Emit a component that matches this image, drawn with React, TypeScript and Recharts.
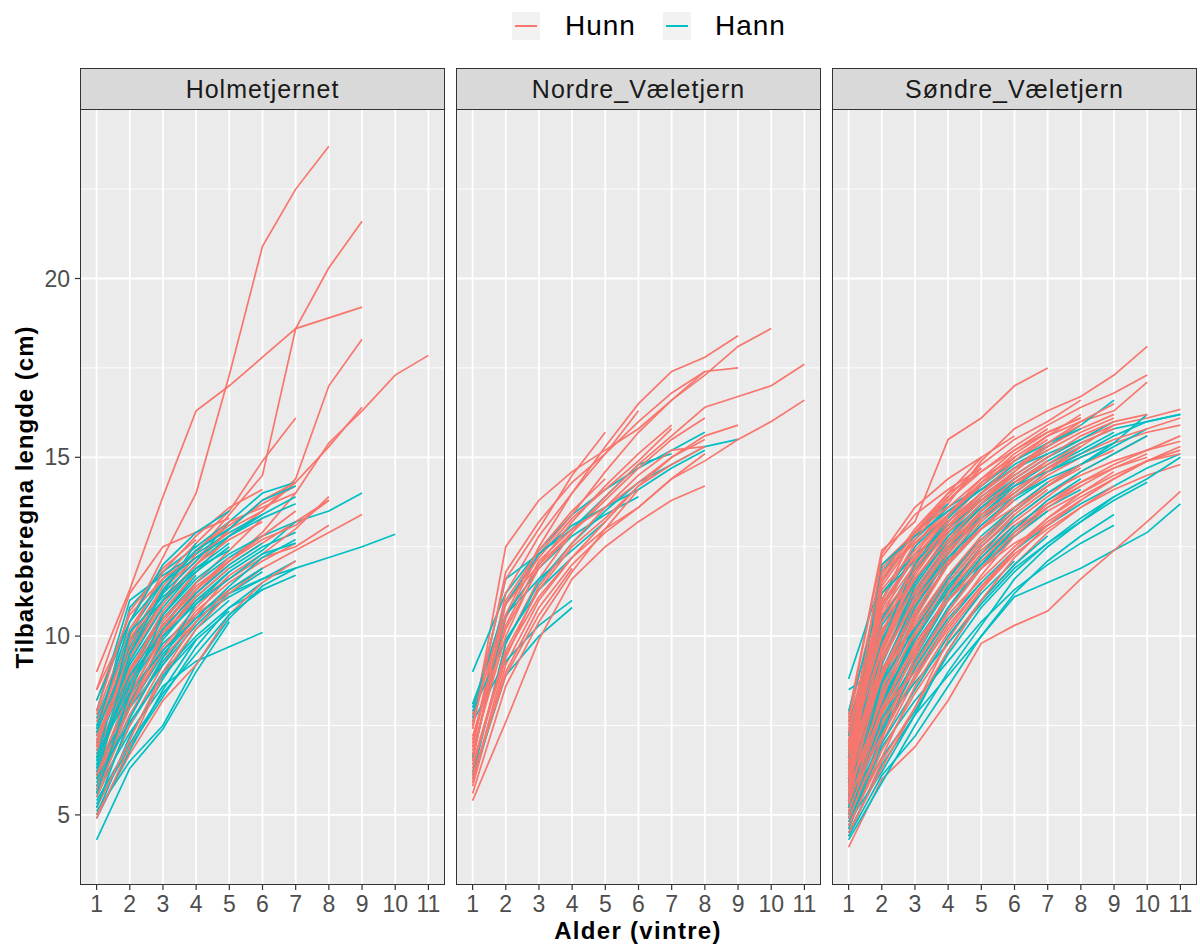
import React from 'react';
import { LineChart, Line, XAxis, YAxis, CartesianGrid } from 'recharts';

// ---------- data (length in cm at age 1, 2, 3, ... for each fish) ----------
const holmetjernetHunn: number[][] = [
  [8.5, 10.4, 12.2, 14.0, 17.3, 20.9, 22.5, 23.7],
  [9.0, 11.3, 13.9, 16.3, 17.0, 17.8, 18.6, 18.9, 19.2],
  [7.0, 9.6, 11.0, 12.3, 13.4, 14.5, 18.6, 20.3, 21.6],
  [6.6, 9.0, 10.6, 11.8, 12.8, 13.5, 14.4, 17.0, 18.3],
  [6.2, 8.4, 10.0, 11.2, 12.1, 12.9, 14.0, 15.4, 16.3, 17.3, 17.85],
  [7.3, 9.8, 11.2, 12.1, 13.0, 13.8, 14.3, 15.3, 16.4],
  [7.8, 10.2, 11.6, 12.6, 13.5, 14.9, 16.1],
  [8.5, 11.2, 12.5, 12.9, 13.3],
  [6.5, 8.6, 10.2, 11.2, 12.0, 12.6, 13.2, 13.8],
  [6.0, 8.2, 9.7, 10.8, 11.7, 12.3, 13.0, 13.9],
  [6.8, 8.8, 10.1, 11.0, 11.6, 12.2, 12.5, 13.1],
  [6.4, 8.1, 9.6, 10.6, 11.3, 11.9, 12.4, 12.9, 13.4],
  [7.2, 9.3, 10.9, 12.0, 13.0, 13.5, 14.3],
  [7.0, 9.9, 11.4, 12.4, 13.2, 13.6, 14.0],
  [6.3, 8.8, 10.2, 11.5, 12.4, 13.3],
  [5.5, 7.5, 9.2, 10.6, 11.7],
  [6.7, 9.0, 10.7, 11.8],
  [5.0, 6.7, 8.2, 9.2, 10.6, 11.5, 12.1],
  [6.9, 9.4, 11.0, 12.0, 12.7, 13.2],
  [7.6, 9.9, 11.3, 12.2, 12.9],
  [5.8, 8.0, 9.6, 10.7, 11.5, 12.1, 12.6],
  [6.1, 8.5, 10.4, 11.5],
  [4.9, 6.9, 8.9, 10.2, 11.2, 11.9],
  [7.4, 10.0, 11.8, 12.8, 13.6, 14.1],
  [6.6, 9.1, 10.5, 11.4, 12.1, 12.7, 13.1, 13.8],
  [5.6, 7.8, 9.4, 10.4],
  [8.2, 10.6, 11.6, 12.3],
  [6.0, 8.0, 10.0, 11.1, 11.9],
  [7.1, 9.0, 10.3, 11.3, 12.1, 12.8, 13.5],
  [5.2, 7.1, 9.0, 10.4, 11.3],
  [6.9, 9.6, 11.3, 12.4, 13.1, 13.7, 14.2],
  [5.7, 8.3, 10.1, 11.3, 12.2],
  [7.9, 10.7, 11.9, 12.7],
];

const holmetjernetHann: number[][] = [
  [5.9, 8.0, 9.5, 10.5, 11.1, 11.6, 11.9, 12.2, 12.5, 12.85],
  [6.6, 9.0, 10.5, 11.5, 12.2, 12.8, 13.2, 13.5, 14.0],
  [5.7, 7.3, 8.6, 9.3, 9.7, 10.1],
  [4.3, 6.3, 7.4, 9.0, 10.4],
  [7.2, 10.8, 11.8, 12.5, 13.2, 14.0, 14.3],
  [6.8, 9.5, 11.0, 12.0, 12.8, 13.4, 13.9],
  [6.2, 8.3, 9.8, 10.6, 11.2, 11.6, 12.1],
  [5.5, 7.5, 9.0, 10.0, 10.8, 11.3, 11.7],
  [6.0, 8.6, 10.0, 11.1, 11.9, 12.5, 12.9],
  [7.0, 9.7, 11.2, 12.1, 13.2],
  [7.9, 11.0, 11.7, 12.3, 12.9, 13.4],
  [5.0, 7.2, 8.8, 10.2, 11.0],
  [6.4, 8.9, 10.3, 11.4],
  [5.3, 6.9, 8.3, 9.7, 10.8, 11.5],
  [7.5, 10.1, 11.5, 12.4, 13.0],
  [6.9, 9.2, 10.6, 11.6, 12.3, 12.8],
  [5.1, 6.5, 7.5, 9.2, 10.5, 11.4, 11.9],
  [6.3, 8.0, 9.2, 10.3, 11.2, 11.8],
  [7.7, 9.9, 11.0, 11.8, 12.5],
  [5.6, 8.1, 9.9, 11.0, 11.8, 12.4, 13.2],
  [6.1, 9.3, 10.8, 11.9, 12.6],
  [4.9, 6.8, 8.5, 9.9],
  [6.7, 8.4, 9.6, 10.5, 11.4, 12.2, 12.7],
  [7.3, 9.6, 11.2, 12.6],
  [5.8, 7.8, 9.3, 10.4, 11.3, 11.9],
  [6.5, 10.1, 11.1, 11.9, 12.4],
  [5.4, 7.0, 8.4, 9.5, 10.6, 11.3],
  [7.1, 8.9, 10.0, 10.9, 11.6, 12.3, 12.6],
  [6.0, 7.6, 8.9, 9.9, 10.7],
  [8.2, 10.4, 11.5, 12.2, 12.8, 13.3, 13.7],
  [6.3, 9.5, 11.3, 12.4, 13.0, 13.8, 14.2],
  [5.2, 7.7, 9.4, 10.9, 11.8],
  [7.4, 10.4, 12.0, 12.9, 13.5],
  [6.6, 8.7, 10.2, 11.2, 12.0, 12.6],
  [5.6, 8.4, 10.6, 11.7],
];

const nordreHunn: number[][] = [
  [7.5, 12.5, 13.8, 14.6, 15.2, 15.8, 16.6, 17.3, 18.1, 18.6],
  [7.0, 11.2, 12.8, 14.0, 15.3, 16.5, 17.4, 17.8, 18.4],
  [6.6, 10.5, 12.3, 13.4, 14.6, 15.7, 16.6, 17.4, 17.5],
  [6.2, 9.8, 11.6, 12.9, 13.9, 14.8, 15.6, 16.4, 16.7, 17.0, 17.6],
  [5.8, 9.2, 11.0, 12.2, 13.0, 13.6, 14.4, 14.9, 15.5, 16.0, 16.6],
  [7.8, 11.6, 13.0, 14.5, 15.7],
  [6.9, 10.9, 12.2, 13.3, 14.1, 14.9, 15.8],
  [7.2, 10.2, 11.9, 12.9, 13.8, 14.7, 15.5, 16.1],
  [6.4, 9.6, 11.3, 12.5, 13.3, 14.2, 14.8, 15.3],
  [6.0, 9.0, 10.8, 12.0, 12.9, 13.6, 14.4, 15.1],
  [5.4, 7.6, 9.9, 11.6, 12.5, 13.2, 13.8, 14.2],
  [7.4, 11.8, 13.2, 14.3, 15.1, 16.0, 16.8, 17.4],
  [6.8, 10.0, 12.0, 13.2, 14.2, 15.1, 15.9],
  [6.3, 9.5, 11.1, 12.2, 13.2, 14.2, 15.0, 15.6, 15.9],
  [7.1, 10.6, 12.5, 14.0, 15.1, 16.3],
  [5.6, 8.6, 10.4, 11.8, 13.0, 14.1],
  [6.5, 11.0, 12.4, 13.5, 14.4],
  [7.6, 10.9, 12.0, 12.9],
  [6.1, 8.9, 10.6, 11.9],
  [5.9, 9.4, 11.4, 12.6, 13.6, 14.5, 15.2, 15.3],
  [6.7, 10.3, 12.1, 13.0, 13.6, 14.3, 15.0, 15.5],
];

const nordreHann: number[][] = [
  [9.0, 11.2, 12.4, 13.4, 14.1, 14.7, 15.2, 15.7],
  [7.7, 11.6, 12.3, 13.0, 13.9, 14.8, 15.1],
  [8.1, 10.6, 11.9, 12.8, 13.4, 13.9],
  [6.1, 9.8, 11.5, 12.6, 13.5, 14.3, 14.8, 15.3, 15.5],
  [7.6, 9.3, 10.3, 11.0],
  [6.0, 8.9, 10.0, 10.8],
  [6.6, 10.6, 11.6, 12.4, 13.2],
  [7.9, 9.9, 11.3, 12.2],
  [8.0, 10.9, 12.3, 13.1, 13.6, 14.1, 14.7, 15.2],
];

const sondreHunn: number[][] = [
  [7.8, 12.4, 13.2, 15.5, 16.1, 17.0, 17.5],
  [6.9, 10.5, 12.5, 13.7, 14.9, 15.8, 16.3, 16.7, 17.3, 18.1],
  [6.4, 9.8, 11.8, 13.2, 14.2, 15.0, 15.6, 16.0, 16.3, 17.1],
  [5.9, 9.2, 11.2, 12.6, 13.6, 14.4, 15.0, 15.5, 15.9, 16.1, 16.34],
  [6.2, 8.6, 10.6, 12.0, 13.1, 13.9, 14.5, 15.0, 15.4, 15.7, 15.9],
  [5.5, 8.0, 9.9, 11.4, 12.5, 13.3, 14.0, 14.5, 14.9, 15.2, 15.45],
  [5.2, 7.4, 9.3, 10.8, 11.9, 12.8, 13.5, 14.0, 14.5, 14.9, 15.2],
  [4.8, 7.0, 8.8, 10.3, 11.4, 12.3, 13.0, 13.6, 14.1, 14.5, 14.8],
  [4.1, 6.0, 6.9, 8.2, 9.8, 10.3, 10.7, 11.6, 12.4, 13.2, 14.05],
  [7.2, 11.5, 12.8, 13.9, 14.8, 15.5, 16.0, 16.6],
  [6.6, 10.1, 12.0, 13.3, 14.3, 15.1, 15.7, 16.1],
  [7.5, 11.0, 12.9, 14.0, 15.0, 15.6],
  [5.7, 9.0, 11.0, 12.4, 13.5, 14.3, 14.9],
  [6.0, 10.4, 11.9, 13.0, 13.9, 14.6, 15.3, 15.8, 16.2],
  [5.0, 8.2, 10.2, 11.6, 12.7, 13.6, 14.3, 14.8, 15.2],
  [6.8, 11.9, 12.9, 13.6, 14.4, 15.0],
  [5.3, 7.8, 9.5, 11.0, 12.2, 13.0, 13.8, 14.3, 14.7, 15.0],
  [4.6, 6.8, 8.4, 9.8, 11.0, 12.0, 12.9, 13.6, 14.2],
  [6.5, 9.5, 11.5, 12.9, 13.8, 14.5, 15.1],
  [7.0, 12.0, 12.9, 13.8, 14.7],
  [5.8, 8.4, 10.0, 11.3, 12.4, 13.2, 13.9, 14.6, 15.1, 15.6],
  [6.3, 10.8, 12.2, 13.2, 14.0, 14.7, 15.4, 15.9],
  [5.1, 7.6, 9.6, 11.2, 12.3, 13.1, 13.7, 14.2],
  [6.1, 9.9, 11.4, 12.7, 13.7, 14.5],
  [7.4, 10.9, 12.3, 13.4, 14.2],
  [4.9, 7.2, 9.1, 10.6, 11.6, 12.5, 13.3, 13.9, 14.4, 14.9, 15.1],
  [5.6, 9.6, 11.6, 12.8, 13.6, 14.3, 14.8, 15.4, 15.8],
  [6.7, 10.2, 11.2, 12.5, 13.5, 14.2, 14.9],
  [5.4, 8.8, 10.9, 12.1, 13.0, 13.8],
  [6.0, 9.1, 10.3, 11.6, 12.7],
  [5.2, 8.5, 10.5, 12.0, 13.2, 14.0, 14.7, 15.3],
  [6.9, 11.0, 12.6, 13.5, 14.2, 14.9, 15.5],
  [4.4, 6.5, 8.0, 9.9, 11.3, 12.4, 13.3, 14.0, 14.6],
  [5.9, 9.4, 11.3, 12.6, 13.4, 14.0],
  [6.4, 10.7, 12.0, 13.1, 13.8],
  [5.0, 7.9, 9.8, 11.0, 12.1, 13.0, 13.6],
  [7.6, 11.7, 13.0, 14.0, 14.6, 15.2, 15.7, 16.1],
  [6.2, 9.0, 10.8, 12.2, 13.3, 14.1, 14.7, 15.1, 15.5, 15.8, 16.1],
  [5.5, 7.2, 8.9, 10.2, 11.4, 12.4, 13.2, 13.8],
  [6.6, 11.2, 12.1, 13.0],
  [5.7, 8.2, 10.6, 12.3, 13.5, 14.4, 15.0, 15.6, 16.0, 16.2],
  [4.7, 6.6, 8.6, 10.1, 11.3, 12.3],
  [6.8, 9.7, 11.7, 13.0, 14.0, 14.9, 15.6, 16.2],
  [5.3, 8.0, 9.7, 11.0, 11.9, 12.6, 13.1, 13.8, 14.4, 14.9, 15.3],
  [6.3, 9.3, 11.0, 12.1, 13.0, 13.6, 14.2, 14.7],
  [7.3, 10.6, 11.8, 12.9, 13.8, 14.6],
  [5.8, 8.9, 10.4, 11.7, 12.8],
  [6.5, 12.2, 13.4, 14.1, 14.7],
  [5.4, 11.8, 12.6, 13.4, 14.2, 15.0],
  [6.1, 10.9, 12.2, 13.3],
  [6.4, 11.4, 12.7, 13.8, 14.6, 15.3, 15.9, 16.4, 16.8, 17.3],
  [5.6, 8.3, 10.1, 11.5, 12.6, 13.5, 14.2, 14.8],
  [6.9, 10.0, 12.1, 13.4, 14.4, 15.2, 15.8],
  [5.1, 7.5, 9.2, 10.7, 11.9, 12.9, 13.7, 14.3, 14.8, 15.2, 15.6],
  [7.7, 12.3, 13.6, 14.4, 15.0],
  [4.5, 6.3, 8.0, 9.6, 11.0, 12.2, 13.1, 13.8],
  [6.2, 9.7, 11.9, 13.1, 14.0, 14.7, 15.2, 15.7, 16.1],
  [5.8, 11.3, 12.4, 13.4, 14.3, 14.9],
  [6.7, 8.9, 10.7, 12.0, 13.0, 13.9, 14.6, 15.3, 15.9],
  [5.3, 9.3, 11.1, 12.4, 13.3],
  [7.1, 10.4, 11.6, 12.7, 13.7, 14.6, 15.4, 16.0, 16.5],
  [4.9, 7.1, 9.4, 11.2, 12.5, 13.4, 14.1],
  [6.0, 11.6, 12.9, 13.9],
  [5.7, 7.9, 9.0, 10.4, 11.7, 12.8, 13.6, 14.2, 14.7, 15.1],
];

const sondreHann: number[][] = [
  [4.5, 6.4, 7.8, 8.9, 10.0, 11.1, 11.5, 11.9, 12.4, 12.9, 13.7],
  [8.8, 11.6, 12.7, 13.6, 14.2],
  [8.5, 9.1, 10.2, 11.2, 12.0, 12.8],
  [6.6, 11.0, 12.5, 13.4, 14.1, 14.8, 15.3, 15.9, 16.6],
  [6.0, 9.3, 11.2, 12.5, 13.5, 14.3, 14.9, 15.4, 15.8, 16.0, 16.2],
  [5.5, 8.4, 10.3, 11.7, 12.7, 13.5, 14.2, 14.8, 15.4, 16.2],
  [5.0, 7.2, 8.9, 10.4, 11.5, 12.4, 13.1, 13.7, 14.2, 14.7, 15.1],
  [4.7, 6.9, 8.2, 9.3, 10.4, 11.3, 12.0, 12.6, 13.1],
  [6.3, 10.4, 12.0, 13.2, 14.0, 14.7, 15.2],
  [5.8, 8.8, 10.7, 12.0, 13.0, 13.8, 14.4],
  [7.0, 11.8, 12.9, 13.7],
  [5.2, 7.9, 9.6, 11.0, 12.1, 12.9, 13.6, 14.1],
  [6.8, 10.0, 11.8, 13.0, 13.9, 14.6],
  [4.9, 6.6, 7.9, 9.5, 10.8, 11.8, 12.6, 13.3, 13.9, 14.4, 15.0],
  [5.6, 8.1, 10.0, 11.4, 12.4],
  [6.2, 9.6, 11.3, 12.5, 13.3, 14.0, 14.7, 15.2, 15.7],
  [7.3, 10.8, 12.2, 13.1, 13.8, 14.5, 15.1, 15.5, 16.0],
  [5.3, 7.6, 9.2, 10.7, 11.9, 12.8, 13.5],
  [6.5, 9.0, 10.9, 12.3, 13.4, 14.2],
  [4.3, 5.9, 7.5, 9.0, 10.3, 11.6, 12.5, 13.2, 13.8, 14.3],
  [5.9, 11.2, 12.3, 13.0, 13.8],
  [6.4, 8.3, 9.8, 11.1, 12.3, 13.3, 14.0, 14.6, 15.1, 15.6],
  [5.1, 7.4, 9.4, 11.0, 12.2, 13.1],
  [7.6, 10.3, 11.6, 12.6, 13.4],
  [5.7, 8.5, 10.5, 12.1, 13.3, 14.2, 14.8, 15.3],
  [6.1, 7.5, 8.7, 9.8, 10.9, 11.9, 12.6, 13.2, 13.9],
  [4.6, 7.3, 9.1, 10.5, 11.5],
  [6.9, 9.4, 11.1, 12.4, 13.3, 13.9, 14.4, 14.8],
  [5.4, 9.0, 11.0, 12.3],
  [6.7, 9.9, 11.5, 12.8, 13.7, 14.4, 15.0, 15.5],
  [5.0, 8.0, 10.1, 11.6, 12.8, 13.6, 14.3],
  [6.0, 8.7, 10.2, 11.5, 12.6, 13.5, 14.2, 14.8, 15.3, 15.8],
  [4.8, 6.2, 7.8, 9.6, 11.0, 12.0, 12.8],
  [5.5, 9.2, 11.4, 12.7, 13.6, 14.3],
  [7.2, 10.5, 11.9, 12.9, 13.6, 14.2, 14.6, 15.0, 15.4],
  [5.3, 7.0, 8.5, 10.0, 11.2, 12.1],
  [6.3, 9.8, 12.0, 13.3, 14.2, 14.9, 15.4, 15.8],
  [4.4, 6.1, 7.2, 8.6, 10.0, 11.2, 12.1, 12.8, 13.4],
  [5.9, 8.2, 9.9, 11.3, 12.5, 13.4],
  [6.6, 12.0, 12.8, 13.5, 14.1, 14.7, 15.1],
  [5.2, 8.7, 10.8, 12.2, 13.1, 13.9, 14.6, 15.1, 15.6, 16.0, 16.2],
  [7.9, 11.2, 12.1, 12.9],
  [4.9, 7.7, 9.3, 10.8, 12.0, 13.0, 13.8, 14.4],
];

const ageTicks = [1, 2, 3, 4, 5, 6, 7, 8, 9, 10, 11];
const yMajorTicks = [5, 10, 15, 20];
const yMinorTicks = [7.5, 12.5, 17.5, 22.5];
const facetNames = ['Holmetjernet', 'Nordre_Væletjern', 'Søndre_Væletjern'];
const sexLabels = ['Hunn', 'Hann'];
const sexColors = ['#F8766D', '#00BFC4'];

// ---------- layout ----------
const FONT = "'Liberation Sans', Arial, Helvetica, sans-serif";
const PLOT_TOP = 109;
const PLOT_H = 776;
const PANEL_W = 365;
const PANEL_LEFTS = [80, 456, 832];
const Y_AXIS_W = 80;
const X_AXIS_H = 50;
const Y_DOMAIN: [number, number] = [3.04, 24.74];

type Series = { key: string; color: string; data: { x: number; y: number }[] };

function buildSeries(hunn: number[][], hann: number[][]): Series[] {
  const out: Series[] = [];
  const n = Math.max(hunn.length, hann.length);
  for (let i = 0; i < n; i++) {
    if (i < hunn.length) {
      out.push({ key: 'f' + i, color: sexColors[0], data: hunn[i].map((v, j) => ({ x: j + 1, y: v })) });
    }
    if (i < hann.length) {
      out.push({ key: 'm' + i, color: sexColors[1], data: hann[i].map((v, j) => ({ x: j + 1, y: v })) });
    }
  }
  return out;
}

function Panel({ idx, hunn, hann }: { idx: number; hunn: number[][]; hann: number[][] }) {
  const left = PANEL_LEFTS[idx];
  const showY = idx === 0;
  const yw = showY ? Y_AXIS_W : 0;
  const series = buildSeries(hunn, hann);
  return (
    <>
      <div
        style={{
          position: 'absolute',
          left,
          top: 68,
          width: PANEL_W,
          height: PLOT_TOP - 68 + 1,
          background: '#D9D9D9',
          border: '1px solid #333333',
          boxSizing: 'border-box',
          display: 'flex',
          alignItems: 'center',
          justifyContent: 'center',
          fontFamily: FONT,
          fontSize: 25,
          letterSpacing: 1,
          color: '#1A1A1A',
        }}
      >
        {facetNames[idx]}
      </div>
      <div style={{ position: 'absolute', left: left - yw, top: PLOT_TOP }}>
        <LineChart
          width={PANEL_W + yw}
          height={PLOT_H + X_AXIS_H}
          margin={{ top: 0, right: 0, bottom: 0, left: 0 }}
        >
          <CartesianGrid
            fill="#EBEBEB"
            fillOpacity={1}
            stroke="#FFFFFF"
            strokeWidth={0.9}
            vertical={false}
            horizontalValues={yMinorTicks}
          />
          <CartesianGrid
            stroke="#FFFFFF"
            strokeWidth={1.8}
            horizontalValues={yMajorTicks}
            verticalValues={ageTicks}
          />
          <XAxis
            type="number"
            dataKey="x"
            domain={[0.5, 11.5]}
            ticks={ageTicks}
            interval={0}
            height={X_AXIS_H}
            axisLine={false}
            tickLine={{ stroke: '#333333', strokeWidth: 1.2 }}
            tickSize={5}
            tickMargin={6}
            tick={{ fontSize: 23, fill: '#4D4D4D', fontFamily: FONT }}
            allowDataOverflow
          />
          <YAxis
            type="number"
            dataKey="y"
            domain={Y_DOMAIN}
            ticks={yMajorTicks}
            interval={0}
            hide={!showY}
            width={yw}
            axisLine={false}
            tickLine={{ stroke: '#333333', strokeWidth: 1.2 }}
            tickSize={5}
            tickMargin={5}
            tick={{ fontSize: 23, fill: '#4D4D4D', fontFamily: FONT }}
            allowDataOverflow
          />
          {series.map((s) => (
            <Line
              key={s.key}
              data={s.data}
              dataKey="y"
              type="linear"
              stroke={s.color}
              strokeWidth={1.7}
              dot={false}
              activeDot={false}
              isAnimationActive={false}
            />
          ))}
        </LineChart>
      </div>
      <div
        style={{
          position: 'absolute',
          left,
          top: PLOT_TOP,
          width: PANEL_W,
          height: PLOT_H,
          border: '1px solid #333333',
          boxSizing: 'border-box',
          pointerEvents: 'none',
        }}
      />
    </>
  );
}

function LegendKey({ left, color }: { left: number; color: string }) {
  return (
    <div style={{ position: 'absolute', left, top: 12, width: 28, height: 28, background: '#F2F2F2' }}>
      <div style={{ position: 'absolute', left: 3, top: 13, width: 22, height: 2, background: color }} />
    </div>
  );
}

export default function App() {
  return (
    <div
      style={{
        position: 'absolute',
        left: 0,
        top: 0,
        width: 1200,
        height: 946,
        background: '#FFFFFF',
        overflow: 'hidden',
        fontFamily: FONT,
      }}
    >
      {/* legend */}
      <LegendKey left={512} color={sexColors[0]} />
      <div style={{ position: 'absolute', left: 565, top: 10, fontSize: 28, lineHeight: '32px', letterSpacing: 1, color: '#000' }}>
        {sexLabels[0]}
      </div>
      <LegendKey left={663} color={sexColors[1]} />
      <div style={{ position: 'absolute', left: 715, top: 10, fontSize: 28, lineHeight: '32px', letterSpacing: 1, color: '#000' }}>
        {sexLabels[1]}
      </div>

      <Panel idx={0} hunn={holmetjernetHunn} hann={holmetjernetHann} />
      <Panel idx={1} hunn={nordreHunn} hann={nordreHann} />
      <Panel idx={2} hunn={sondreHunn} hann={sondreHann} />

      {/* x title */}
      <div
        style={{
          position: 'absolute',
          left: 438,
          top: 919,
          width: 400,
          textAlign: 'center',
          fontSize: 24,
          lineHeight: '24px',
          fontWeight: 700,
          letterSpacing: 1.3,
          color: '#000',
        }}
      >
        Alder (vintre)
      </div>
      {/* y title */}
      <div
        style={{
          position: 'absolute',
          left: 25 - 250,
          top: 497 - 15,
          width: 500,
          height: 30,
          lineHeight: '30px',
          textAlign: 'center',
          fontSize: 24,
          fontWeight: 700,
          letterSpacing: 1.0,
          color: '#000',
          transform: 'rotate(-90deg)',
          transformOrigin: '50% 50%',
          whiteSpace: 'nowrap',
        }}
      >
        Tilbakeberegna lengde (cm)
      </div>
    </div>
  );
}
